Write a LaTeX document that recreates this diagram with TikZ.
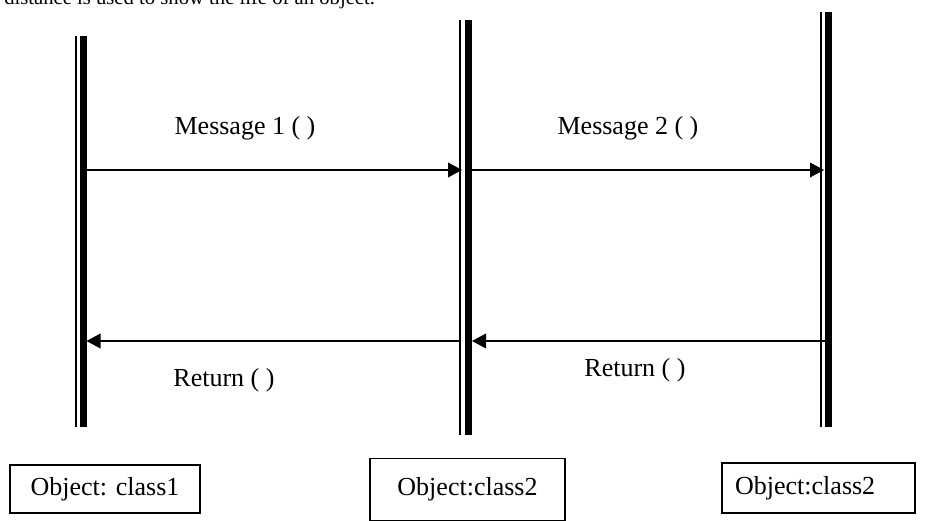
\documentclass[tikz,border=0pt]{standalone}
\usepackage{fontspec}
\setmainfont{Liberation Serif}
\usetikzlibrary{arrows.meta}
\tikzset{
  thinlife/.style={line width=1.2pt},
  thicklife/.style={line width=5pt},
  msg/.style={line width=1.1pt,-{Triangle[length=10.5pt,width=11pt]}},
  lbl/.style={font=\fontsize{19.5}{21}\selectfont,inner sep=0pt},
  objbox/.style={draw,line width=1.1pt,inner sep=0pt,font=\fontsize{19.5}{21}\selectfont}
}
\begin{document}
\begin{tikzpicture}[x=0.75pt,y=-0.75pt]
\useasboundingbox (0,0) rectangle (946,521);
\clip (0,0) rectangle (946,521);
% partly cut caption at top
\node[inner sep=0pt,font=\fontsize{15.5}{17}\selectfont,anchor=base west] (cap) at (4,4.5) {distance is used to show the life of an object.};
% lifelines
\coordinate (l1t) at (76,36);  \coordinate (l1b) at (76,427);
\coordinate (k1t) at (83.5,36); \coordinate (k1b) at (83.5,427);
\coordinate (l2t) at (460,20); \coordinate (l2b) at (460,435);
\coordinate (k2t) at (468.5,20); \coordinate (k2b) at (468.5,435);
\coordinate (l3t) at (821,12); \coordinate (l3b) at (821,427);
\coordinate (k3t) at (828.5,12); \coordinate (k3b) at (828.5,427);
\draw[thinlife] (l1t) -- (l1b);
\draw[thicklife] (k1t) -- (k1b);
\draw[thinlife] (l2t) -- (l2b);
\draw[thicklife] (k2t) -- (k2b);
\draw[thinlife] (l3t) -- (l3b);
\draw[thicklife] (k3t) -- (k3b);
% message anchors
\coordinate (m1s) at (87,170);  \coordinate (m1e) at (462,170);
\coordinate (m2s) at (472,170); \coordinate (m2e) at (824,170);
\coordinate (r1s) at (460,341); \coordinate (r1e) at (86.5,341);
\coordinate (r2s) at (828,341); \coordinate (r2e) at (472,341);
\draw[msg] (m1s) -- (m1e);
\draw[msg] (m2s) -- (m2e);
\draw[msg] (r1s) -- (r1e);
\draw[msg] (r2s) -- (r2e);
% labels
\node[lbl] (t1) at (245,128) {Message 1 ( )};
\node[lbl] (t2) at (628,128) {Message 2 ( )};
\node[lbl] (t3) at (224,380) {Return ( )};
\node[lbl] (t4) at (635,370) {Return ( )};
% object boxes
\node[objbox,minimum width=190*0.75pt,minimum height=48*0.75pt] (o1) at (105,489) {Object: class1};
\node[objbox,minimum width=195*0.75pt,minimum height=62*0.75pt] (o2) at (467.5,489.5) {Object:class2};
\node[objbox,minimum width=193*0.75pt,minimum height=50*0.75pt] (o3) at (818.5,488) {\hspace{-20pt}Object:class2};
\end{tikzpicture}
\end{document}
